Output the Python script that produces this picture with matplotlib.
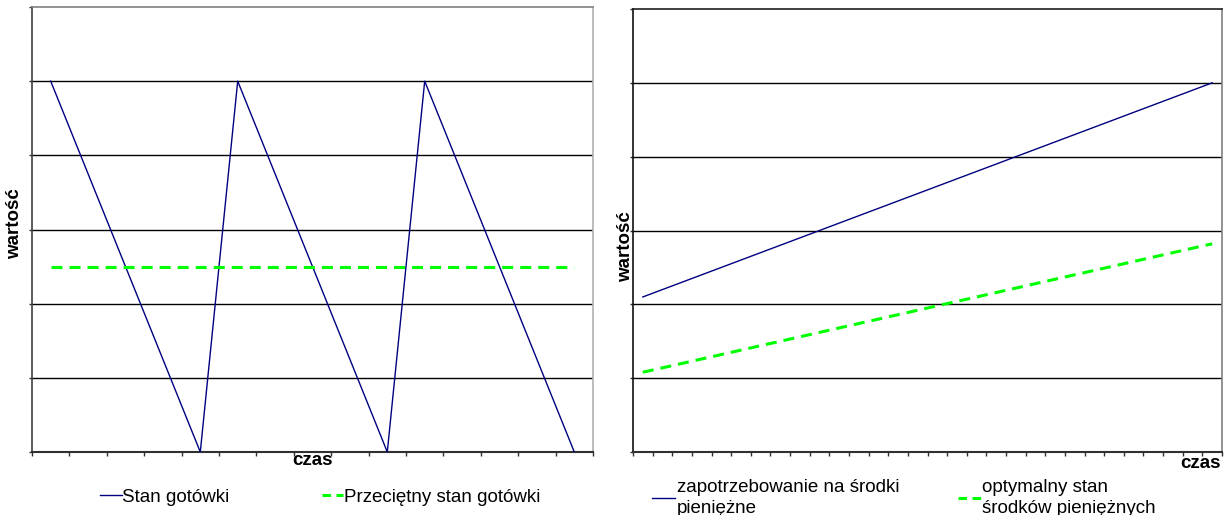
import matplotlib
matplotlib.use("Agg")
import matplotlib.pyplot as plt
from matplotlib.lines import Line2D

plt.rcParams['font.family'] = ['Liberation Sans', 'DejaVu Sans']

# Left chart: cash balance over time (15 periods)
left_periods = list(range(1, 16))
cash_balance = [5, 3.75, 2.5, 1.25, 0, 5, 3.75, 2.5, 1.25, 0, 5, 3.75, 2.5, 1.25, 0]
average_balance = [2.5, 2.5, 2.5, 2.5, 2.5, 2.5, 2.5, 2.5, 2.5, 2.5, 2.5, 2.5, 2.5, 2.5, 2.5]

# Right chart: demand for funds vs optimal cash level (30 periods)
right_periods = list(range(1, 31))
demand = [2.1, 2.2, 2.3, 2.4, 2.5, 2.6, 2.7, 2.8, 2.9, 3.0,
          3.1, 3.2, 3.3, 3.4, 3.5, 3.6, 3.7, 3.8, 3.9, 4.0,
          4.1, 4.2, 4.3, 4.4, 4.5, 4.6, 4.7, 4.8, 4.9, 5.0]
optimal = [1.08, 1.14, 1.20, 1.26, 1.32, 1.38, 1.44, 1.50, 1.56, 1.62,
           1.68, 1.74, 1.80, 1.86, 1.92, 1.98, 2.04, 2.10, 2.16, 2.22,
           2.28, 2.34, 2.40, 2.46, 2.52, 2.58, 2.64, 2.70, 2.76, 2.82]

y_levels = [0, 1, 2, 3, 4, 5, 6]

BLUE = '#000080'
GREEN = '#00ff00'
FS = 13.5
DASH = (0, (3.6, 2.3))
HANDLE_DASH = (0, (2.8, 1.8))

W, H = 1230, 515
fig = plt.figure(figsize=(W / 100, H / 100), dpi=100)


def frac(x0, y0, x1, y1):
    return [x0 / W, (H - y1) / H, (x1 - x0) / W, (y1 - y0) / H]


def style_axes(ax, n, top_color, right_color, left_color):
    ax.set_xlim(0, n)
    ax.set_ylim(y_levels[0], y_levels[-1])
    ax.set_yticks(y_levels)
    ax.set_xticks(range(0, n + 1))
    ax.set_yticklabels([])
    ax.set_xticklabels([])
    for lv in y_levels[1:-1]:
        ax.axhline(lv, color='black', lw=1.0, zorder=1)
    ax.spines['top'].set_color(top_color)
    ax.spines['right'].set_color(right_color)
    ax.spines['left'].set_color(left_color)
    ax.spines['bottom'].set_color('#303030')
    ax.spines['bottom'].set_linewidth(1.5)
    ax.spines['left'].set_linewidth(1.2)
    ax.spines['top'].set_linewidth(1.2)
    ax.spines['right'].set_linewidth(1.2)
    ax.tick_params(axis='y', direction='out', length=2.5, width=1, color='#303030')
    ax.tick_params(axis='x', direction='out', length=3, width=1, color='#303030')


# ---- left chart ----
axL = fig.add_axes(frac(32, 7, 593, 452))
style_axes(axL, 15, '#808080', '#b0b0b0', '#404040')
xs_left = [p - 0.5 for p in left_periods]
axL.plot(xs_left, cash_balance, color=BLUE, lw=1.0, zorder=3)
axL.plot(xs_left, average_balance, color=GREEN, lw=2.2, linestyle=DASH, zorder=3)
axL.text(0.5, -0.02, 'czas', transform=axL.transAxes, ha='center', va='center',
         fontsize=FS, fontweight='bold')
fig.text(15 / W, (H - 224) / H, 'wartość', rotation=90, ha='center', va='center',
         fontsize=FS, fontweight='bold')

handles_left = [Line2D([], [], color=BLUE, lw=1.0),
                Line2D([], [], color=GREEN, lw=2.2, linestyle=HANDLE_DASH)]
fig.legend(handles_left, ['Stan gotówki', 'Przeciętny stan gotówki'],
           loc='center left', bbox_to_anchor=(100 / W, (H - 497) / H),
           ncol=2, frameon=False, fontsize=FS, borderpad=0, borderaxespad=0,
           handlelength=1.15, handletextpad=0.05, columnspacing=4.9)

# ---- right chart ----
axR = fig.add_axes(frac(633, 9, 1222, 452))
style_axes(axR, 30, '#202020', '#808080', '#101010')
xs_right = [p - 0.5 for p in right_periods]
axR.plot(xs_right, demand, color=BLUE, lw=1.0, zorder=3)
axR.plot(xs_right, optimal, color=GREEN, lw=2.2, linestyle=DASH, zorder=3)
axR.text(0.963, -0.026, 'czas', transform=axR.transAxes, ha='center', va='center',
         fontsize=FS, fontweight='bold')
fig.text(626 / W, (H - 247) / H, 'wartość', rotation=90, ha='center', va='center',
         fontsize=FS, fontweight='bold')

handles_right = [Line2D([], [], color=BLUE, lw=1.0),
                 Line2D([], [], color=GREEN, lw=2.2, linestyle=HANDLE_DASH)]
legR = fig.legend(handles_right, ['zapotrzebowanie na środki\npieniężne',
                                  'optymalny stan\nśrodków pieniężnych'],
                  loc='center left', bbox_to_anchor=(652 / W, (H - 498) / H),
                  ncol=2, frameon=False, fontsize=FS, borderpad=0, borderaxespad=0,
                  handlelength=1.25, handletextpad=0.08, columnspacing=3.1)
for t in legR.get_texts():
    t.set_linespacing(1.25)

fig.savefig('out.png', dpi=100)
